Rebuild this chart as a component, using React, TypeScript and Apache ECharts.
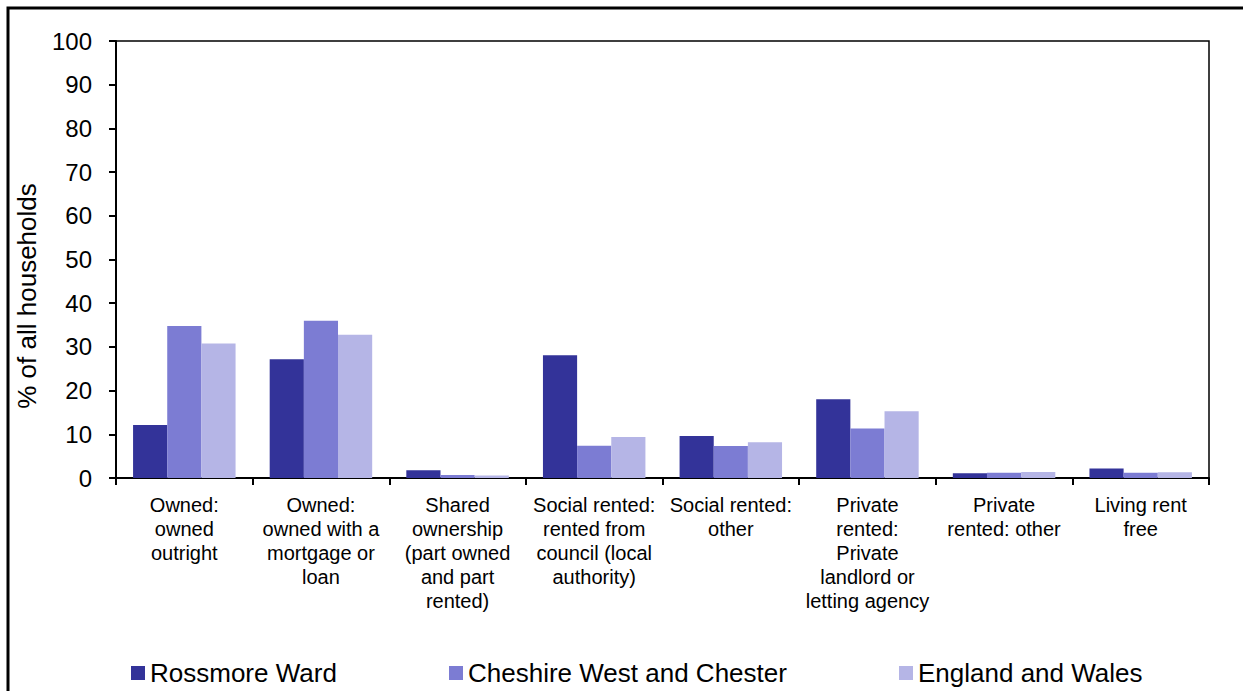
import React, { useEffect, useRef } from "react";
import * as echarts from "echarts";

const categories = [
  "Owned:\nowned\noutright",
  "Owned:\nowned with a\nmortgage or\nloan",
  "Shared\nownership\n(part owned\nand part\nrented)",
  "Social rented:\nrented from\ncouncil (local\nauthority)",
  "Social rented:\nother",
  "Private\nrented:\nPrivate\nlandlord or\nletting agency",
  "Private\nrented: other",
  "Living rent\nfree",
];

const seriesNames = ["Rossmore Ward", "Cheshire West and Chester", "England and Wales"];
const rossmore = [12.1, 27.2, 1.8, 28.1, 9.6, 18.0, 1.1, 2.2];
const cheshire = [34.8, 36.0, 0.7, 7.4, 7.3, 11.3, 1.2, 1.2];
const englandWales = [30.8, 32.8, 0.6, 9.4, 8.2, 15.3, 1.4, 1.3];
const colors = ["#333399", "#7C7CD3", "#B5B5E6"];
const yTicks = { min: 0, max: 100, interval: 10 };
const yTitle = "% of all households";

const FONT = "'Liberation Sans', Arial, sans-serif";

export default function App() {
  const ref = useRef<HTMLDivElement>(null);
  useEffect(() => {
    if (!ref.current) return;
    const chart = echarts.init(ref.current, null, { renderer: "svg" });
    const values = [rossmore, cheshire, englandWales];
    const legendLefts = [131, 449, 899];
    chart.setOption({
      animation: false,
      backgroundColor: "#fff",
      textStyle: { fontFamily: FONT, color: "#000" },
      grid: {
        left: 116,
        top: 41,
        right: 34,
        bottom: 213,
        show: true,
        borderColor: "#000",
        borderWidth: 1.5,
      },
      legend: seriesNames.map((n, i) => ({
        data: [n],
        left: legendLefts[i],
        top: 660,
        padding: 0,
        itemWidth: 14,
        itemHeight: 14,
        icon: "rect",
        textStyle: { fontSize: 26, color: "#000", fontFamily: FONT, padding: [0, 0, 0, 0] },
      })),
      xAxis: {
        type: "category",
        data: categories,
        axisLine: { lineStyle: { color: "#000", width: 2 } },
        axisTick: { show: true, length: 7, lineStyle: { color: "#000", width: 2 } },
        axisLabel: {
          interval: 0,
          fontSize: 20,
          lineHeight: 24,
          margin: 15,
          color: "#000",
          fontFamily: FONT,
          align: "center",
        },
      },
      yAxis: {
        type: "value",
        min: yTicks.min,
        max: yTicks.max,
        interval: yTicks.interval,
        splitLine: { show: false },
        axisLine: { show: true, lineStyle: { color: "#000", width: 2 } },
        axisTick: { show: true, length: 7, lineStyle: { color: "#000", width: 2 } },
        axisLabel: { fontSize: 24, margin: 24, color: "#000", fontFamily: FONT },
      },
      series: seriesNames.map((n, i) => ({
        name: n,
        type: "bar",
        data: values[i],
        barGap: "0%",
        barCategoryGap: "25%",
        itemStyle: { color: colors[i] },
      })),
      graphic: [
        {
          type: "rect",
          shape: { x: 8, y: 8, width: 1400, height: 900 },
          style: { fill: "none", stroke: "#000", lineWidth: 3 },
          z: 100,
        },
        {
          type: "text",
          x: 27,
          y: 296,
          rotation: Math.PI / 2,
          style: {
            text: yTitle,
            font: `26px ${FONT}`,
            fill: "#000",
            align: "center",
            verticalAlign: "middle",
          },
        },
      ],
    });
    return () => chart.dispose();
  }, []);
  return (
    <div
      ref={ref}
      style={{ position: "fixed", left: 0, top: 0, width: 1243, height: 691, background: "#fff" }}
    />
  );
}
